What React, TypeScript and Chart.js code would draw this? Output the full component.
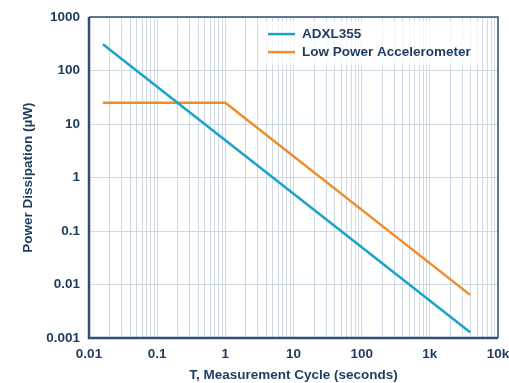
import React, { useEffect, useRef } from "react";
import { Chart, registerables } from "chart.js";

Chart.register(...registerables);

const seriesLabels = ["ADXL355", "Low Power Accelerometer"];
const adxlT = [0.016, 3900];
const adxlP = [312, 0.00128];
const lowT = [0.016, 1, 3900];
const lowP = [25, 25, 0.0064];
const xMajorTicks = [0.01, 0.1, 1, 10, 100, 1000, 10000];
const xTickLabels = ["0.01", "0.1", "1", "10", "100", "1k", "10k"];
const yMajorTicks = [0.001, 0.01, 0.1, 1, 10, 100, 1000];
const yTickLabels = ["0.001", "0.01", "0.1", "1", "10", "100", "1000"];

const NAVY = "#1d3b5f";
const FRAME = "#2e4f73";
const GRID = "#d0dae5";
const CYAN = "#1aa3c8";
const ORANGE = "#f08c2a";
const FONT = "'Liberation Sans', Arial, sans-serif";
const FS = 13.5;

export default function App() {
  const ref = useRef<HTMLCanvasElement | null>(null);
  useEffect(() => {
    if (!ref.current) return;
    const xAll: number[] = [];
    for (let d = -2; d < 4; d++) {
      for (let m = 1; m < 10; m++) xAll.push(m * Math.pow(10, d));
    }
    xAll.push(10000);

    const framePlugin = {
      id: "frame",
      afterDraw(chart: any) {
        const { ctx, chartArea: a } = chart;
        ctx.save();
        ctx.strokeStyle = FRAME;
        ctx.lineWidth = 1.5;
        ctx.beginPath();
        ctx.moveTo(a.left, a.top);
        ctx.lineTo(a.right, a.top);
        ctx.lineTo(a.right, a.bottom);
        ctx.stroke();
        ctx.lineWidth = 2.5;
        ctx.beginPath();
        ctx.moveTo(a.left, a.top);
        ctx.lineTo(a.left, a.bottom);
        ctx.lineTo(a.right, a.bottom);
        ctx.stroke();
        // legend
        const lx = a.left + 179;
        const ly = a.top + 4;
        ctx.fillStyle = "rgba(255,255,255,0.75)";
        ctx.fillRect(lx - 8, ly, 222, 44);
        const items = chart.data.datasets;
        ctx.font = `bold ${FS}px ${FONT}`;
        ctx.textBaseline = "middle";
        items.forEach((ds: any, i: number) => {
          const y = ly + 13 + i * 18;
          ctx.strokeStyle = ds.borderColor;
          ctx.lineWidth = 2.5;
          ctx.beginPath();
          ctx.moveTo(lx, y);
          ctx.lineTo(lx + 27, y);
          ctx.stroke();
          ctx.fillStyle = NAVY;
          ctx.fillText(ds.label, lx + 34, y);
        });
        ctx.restore();
      },
    };

    const chart = new Chart(ref.current, {
      type: "line",
      data: {
        datasets: [
          {
            label: seriesLabels[0],
            data: adxlT.map((t, i) => ({ x: t, y: adxlP[i] })),
            borderColor: CYAN,
            borderWidth: 2.5,
            pointRadius: 0,
            tension: 0,
          },
          {
            label: seriesLabels[1],
            data: lowT.map((t, i) => ({ x: t, y: lowP[i] })),
            borderColor: ORANGE,
            borderWidth: 2.5,
            pointRadius: 0,
            tension: 0,
          },
        ],
      },
      options: {
        responsive: false,
        animation: false,
        layout: { padding: { top: 15, right: 0, left: 0, bottom: 0 } },
        plugins: { legend: { display: false }, tooltip: { enabled: false } },
        scales: {
          x: {
            type: "logarithmic",
            min: 0.01,
            max: 10000,
            afterBuildTicks(scale: any) {
              scale.ticks = xAll.map((v) => ({ value: v }));
            },
            afterFit(scale: any) {
              scale.height = 45;
              scale.paddingRight = 11;
            },
            grid: { color: GRID, lineWidth: 1, drawTicks: false },
            border: { display: false },
            ticks: {
              autoSkip: false,
              maxRotation: 0,
              padding: 8,
              color: NAVY,
              font: { family: FONT, size: FS, weight: "bold" },
              callback(value: any) {
                const idx = xMajorTicks.findIndex((m) => Math.abs(m - value) / m < 1e-6);
                return idx >= 0 ? xTickLabels[idx] : "";
              },
            },
            title: {
              display: true,
              text: "T, Measurement Cycle (seconds)",
              color: NAVY,
              font: { family: FONT, size: FS, weight: "bold" },
              padding: { top: 0, bottom: 0 },
            },
          },
          y: {
            type: "logarithmic",
            min: 0.001,
            max: 1000,
            afterBuildTicks(scale: any) {
              scale.ticks = yMajorTicks.map((v) => ({ value: v }));
            },
            afterFit(scale: any) {
              scale.width = 89;
            },
            grid: { color: GRID, lineWidth: 1, drawTicks: false },
            border: { display: false },
            ticks: {
              autoSkip: false,
              padding: 9,
              color: NAVY,
              font: { family: FONT, size: FS, weight: "bold" },
              callback(value: any) {
                const idx = yMajorTicks.findIndex((m) => Math.abs(m - value) / m < 1e-6);
                return idx >= 0 ? yTickLabels[idx] : "";
              },
            },
            title: {
              display: true,
              text: "Power Dissipation (µW)",
              color: NAVY,
              font: { family: FONT, size: FS, weight: "bold" },
              padding: { top: 20, bottom: 0 },
            },
          },
        },
      } as any,
      plugins: [framePlugin],
    });
    return () => chart.destroy();
  }, []);

  return (
    <div style={{ position: "fixed", left: 0, top: 0, width: 509, height: 383, background: "#fff" }}>
      <canvas ref={ref} width={509} height={383} />
    </div>
  );
}
